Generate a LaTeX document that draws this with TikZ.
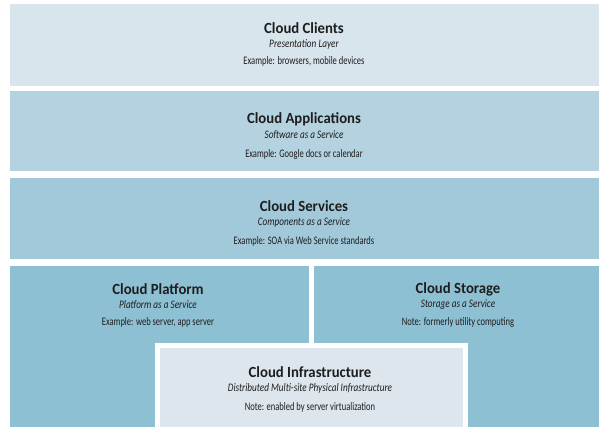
\documentclass[tikz,border=0pt]{standalone}
\usepackage{fontspec}
\setmainfont{Carlito}
\newfontfamily\ttlfont[FakeStretch=0.95]{Carlito}
\newfontfamily\txtfont[FakeStretch=0.74]{Carlito}
\newfontfamily\itfont[FakeStretch=0.8]{Carlito}
\definecolor{cClients}{HTML}{D9E5EC}
\definecolor{cApps}{HTML}{B4D2DF}
\definecolor{cServ}{HTML}{A2C9DA}
\definecolor{cPlat}{HTML}{8EC0D4}
\definecolor{cInfra}{HTML}{DCE6EC}
\definecolor{ink}{HTML}{1E1E1E}
\begin{document}
\begin{tikzpicture}[x=1pt,y=-1pt,
  ttl/.style={font=\ttlfont\fontsize{15.5}{17}\selectfont\bfseries, text=ink, inner sep=0pt},
  sub/.style={font=\itfont\fontsize{11.5}{13}\selectfont\itshape, text=ink, inner sep=0pt},
  note/.style={font=\txtfont\fontsize{11.5}{13}\selectfont, text=ink, inner sep=0pt}]
\useasboundingbox (0,0) rectangle (599,427);
\fill[white] (0,0) rectangle (599,427);
% layers
\fill[cClients] (10,4) rectangle (599,86);
\fill[cApps] (10,91) rectangle (599,171);
\fill[cServ] (10,178) rectangle (599,259);
\fill[cPlat] (10,266) rectangle (309,427);
\fill[cPlat] (314,266) rectangle (599,427);
\fill[white] (155,343) rectangle (468,427);
\fill[cInfra] (160,348) rectangle (463,427);
% texts
\node[ttl]  (t1) at (304,28) {Cloud Clients};
\node[sub]  (s1) at (304,44) {Presentation Layer};
\node[note] (n1) at (304,61) {Example: browsers, mobile devices};
\node[ttl]  (t2) at (304,119) {Cloud Applications};
\node[sub]  (s2) at (304,135) {Software as a Service};
\node[note] (n2) at (304,154) {Example: Google docs or calendar};
\node[ttl]  (t3) at (304,206) {Cloud Services};
\node[sub]  (s3) at (304,222) {Components as a Service};
\node[note] (n3) at (304,241) {Example: SOA via Web Service standards};
\node[ttl]  (t4) at (158,289) {Cloud Platform};
\node[sub]  (s4) at (158,305) {Platform as a Service};
\node[note] (n4) at (158,322) {Example: web server, app server};
\node[ttl]  (t5) at (458,289) {Cloud Storage};
\node[sub]  (s5) at (458,305) {Storage as a Service};
\node[note] (n5) at (458,322) {Note: formerly utility computing};
\node[ttl]  (t6) at (310,372) {Cloud Infrastructure};
\node[sub]  (s6) at (310,388) {Distributed Multi-site Physical Infrastructure};
\node[note] (n6) at (310,407) {Note: enabled by server virtualization};
\end{tikzpicture}
\end{document}
